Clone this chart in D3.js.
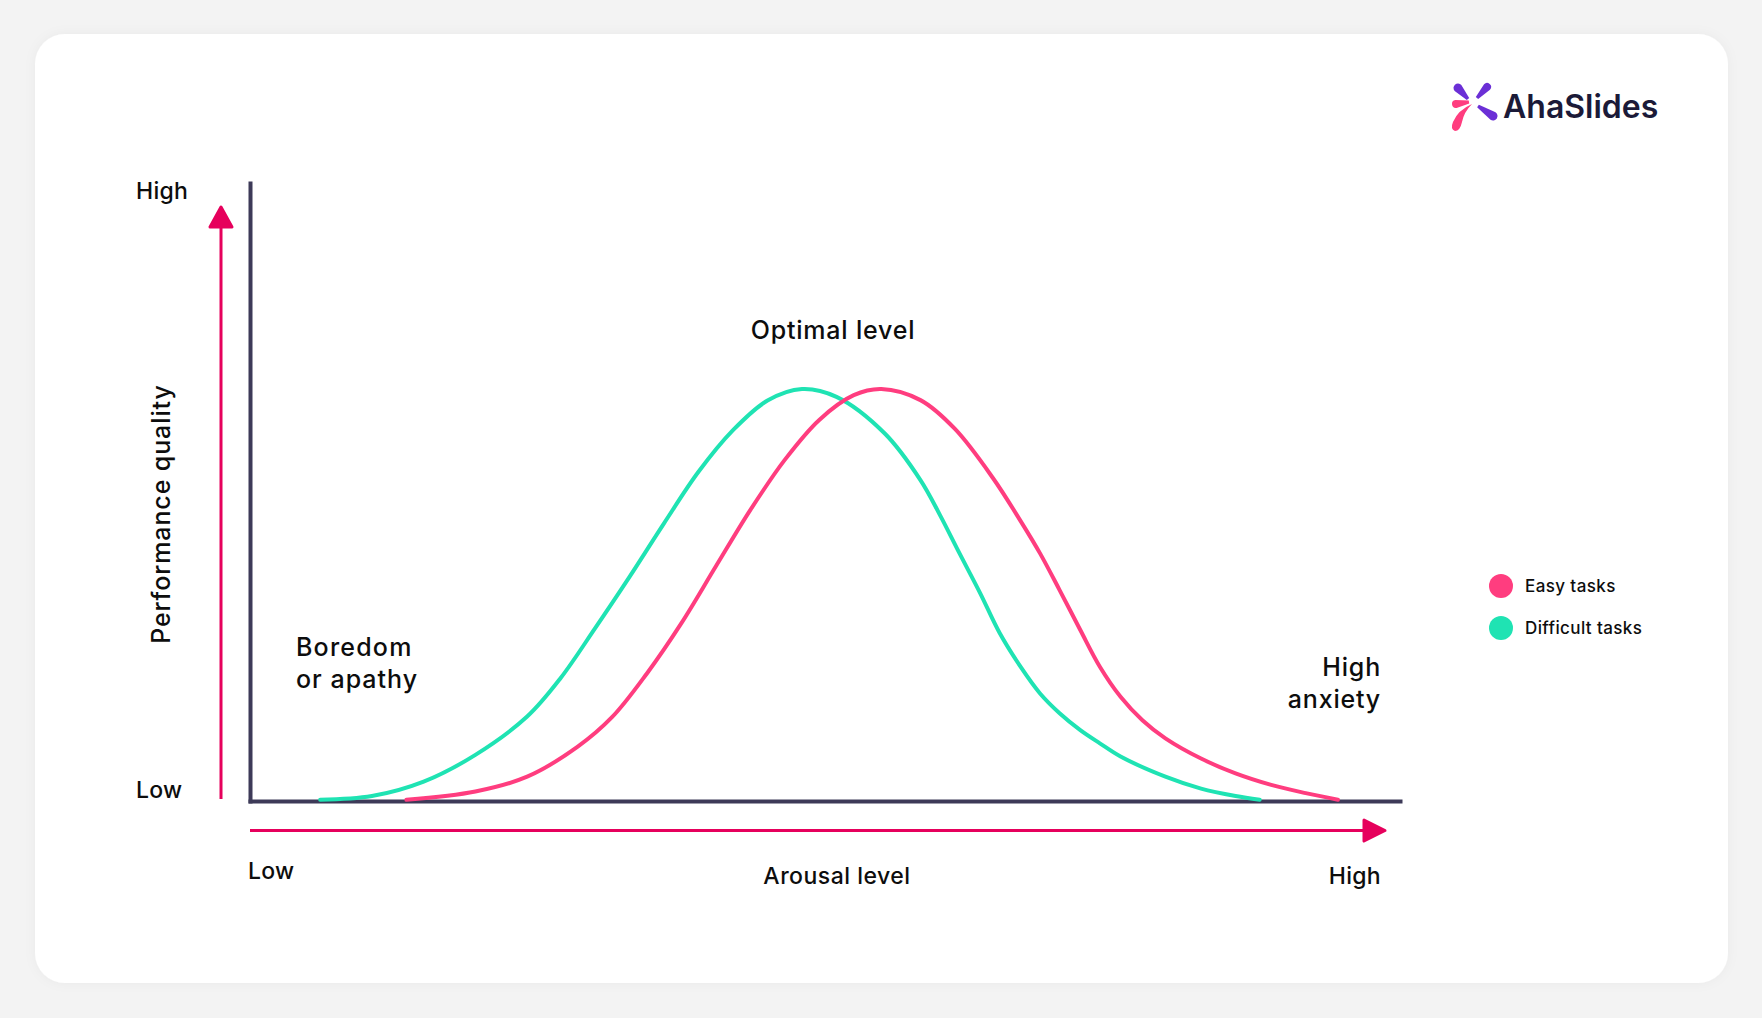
<!DOCTYPE html>
<html>
<head>
<meta charset="utf-8">
<script src="https://cdn.jsdelivr.net/npm/d3@7"></script>
<style>
  html, body { margin: 0; padding: 0; background: #f3f3f3; }
  svg { display: block; font-family: Inter, "Noto Sans", sans-serif; }
</style>
</head>
<body>
<svg id="chart" width="1762" height="1018"></svg>
<script>
// ---- Data (arousal level 0-100, performance quality 0-150 scale) ----
const seriesNames = ["Easy tasks", "Difficult tasks"];
const easyArousal = [13.6, 19.6, 24.1, 28.5, 31.5, 34.5, 37.5, 40.5, 43.5, 46.5, 49.5, 52.5, 54.9, 58.3, 61.3, 64.6, 67.0, 68.7, 70.4, 72.2, 73.9, 75.7, 77.6, 79.6, 82.7, 85.7, 88.8, 91.8, 94.6];
const easyPerformance = [0.3, 2.3, 5.9, 13.2, 20.4, 30.9, 43.1, 56.9, 70.6, 82.8, 92.5, 98.5, 100, 97.3, 90.3, 78.4, 68.0, 60.1, 51.2, 41.5, 32.6, 25.3, 19.6, 15.2, 10.3, 6.7, 3.9, 1.9, 0.3];
const difficultArousal = [6.1, 10.6, 15.1, 19.6, 24.1, 27.0, 30.0, 33.0, 36.0, 39.0, 42.0, 45.0, 48.0, 51.0, 55.2, 58.3, 60.0, 61.7, 63.5, 65.2, 67.0, 68.7, 70.4, 72.2, 73.9, 75.7, 79.6, 82.7, 85.7, 87.8];
const difficultPerformance = [0.3, 1.2, 4.7, 11.2, 20.5, 29.8, 41.9, 54.4, 67.4, 79.9, 90.0, 97.2, 100, 98.1, 89.2, 77.9, 69.4, 60.1, 50.4, 40.7, 32.6, 26.1, 21.3, 17.2, 14.0, 10.8, 5.9, 3.0, 1.2, 0.3];
const xTickLabels = ["Low", "High"];
const yTickLabels = ["Low", "High"];
const xAxisTitle = "Arousal level";
const yAxisTitle = "Performance quality";
const zoneLabels = [["Boredom", "or apathy"], ["Optimal level"], ["High", "anxiety"]];
const brandName = "AhaSlides";

// ---- Styles ----
const colEasy = "#ff3d7f";
const colDifficult = "#1fe3b3";
const colArrow = "#e6005c";
const colAxis = "#3d3a58";
const colText = "#0d0d0d";

const svg = d3.select("#chart");

// background card
const defs = svg.append("defs");
const f = defs.append("filter").attr("id", "shadow").attr("x", "-5%").attr("y", "-5%").attr("width", "110%").attr("height", "110%");
f.append("feDropShadow").attr("dx", 0).attr("dy", 0).attr("stdDeviation", 6).attr("flood-color", "#000").attr("flood-opacity", 0.04);
svg.append("rect").attr("x", 35).attr("y", 34).attr("width", 1693).attr("height", 949)
  .attr("rx", 30).attr("fill", "#ffffff").attr("filter", "url(#shadow)");

// scales
const x = d3.scaleLinear().domain([0, 100]).range([250, 1400]);
const y = d3.scaleLinear().domain([0, 150]).range([801, 183]);

// axes (domain lines only)
const gx = svg.append("g").attr("transform", `translate(0,${y(0)})`)
  .call(d3.axisBottom(x).tickValues([]).tickSizeOuter(0));
const gy = svg.append("g").attr("transform", `translate(${x(0)},0)`)
  .call(d3.axisLeft(y).tickValues([]).tickSizeOuter(0));
[gx, gy].forEach(g => g.select(".domain")
  .attr("stroke", colAxis).attr("stroke-width", 4).attr("stroke-linecap", "square"));

// curves
const line = d3.line().x(d => x(d[0])).y(d => y(d[1])).curve(d3.curveCatmullRom.alpha(0.5));
const difficultData = d3.zip(difficultArousal, difficultPerformance);
const easyData = d3.zip(easyArousal, easyPerformance);
svg.append("path").datum(difficultData).attr("d", line)
  .attr("fill", "none").attr("stroke", colDifficult).attr("stroke-width", 4).attr("stroke-linecap", "round");
svg.append("path").datum(easyData).attr("d", line)
  .attr("fill", "none").attr("stroke", colEasy).attr("stroke-width", 4).attr("stroke-linecap", "round");

// pink arrows
svg.append("line").attr("x1", 221).attr("y1", 799).attr("x2", 221).attr("y2", 226)
  .attr("stroke", colArrow).attr("stroke-width", 3);
svg.append("path").attr("d", "M221,207 L232,227 L210,227 Z")
  .attr("fill", colArrow).attr("stroke", colArrow).attr("stroke-width", 3).attr("stroke-linejoin", "round");
svg.append("line").attr("x1", 250).attr("y1", 830.5).attr("x2", 1366).attr("y2", 830.5)
  .attr("stroke", colArrow).attr("stroke-width", 3);
svg.append("path").attr("d", "M1385,830.5 L1364,841 L1364,820 Z")
  .attr("fill", colArrow).attr("stroke", colArrow).attr("stroke-width", 3).attr("stroke-linejoin", "round");

// text helper
function txt(s, xx, yy, size, anchor, ls) {
  return svg.append("text").attr("x", xx).attr("y", yy).attr("font-size", size)
    .attr("text-anchor", anchor || "start").attr("font-weight", 500)
    .attr("letter-spacing", ls || 0)
    .attr("fill", colText).text(s);
}

// y tick labels
txt(yTickLabels[1], 136, 199, 23, "start", 0.3);
txt(yTickLabels[0], 136, 798, 23, "start", 0.3);
// x tick labels
txt(xTickLabels[0], 248, 879, 23, "start", 0.3);
txt(xTickLabels[1], 1381, 884, 23, "end", 0.3);
// axis titles
txt(xAxisTitle, 837, 884, 23, "middle", 0.5);
svg.append("text").attr("transform", "translate(170,514) rotate(-90)")
  .attr("font-size", 25).attr("font-weight", 500).attr("text-anchor", "middle")
  .attr("letter-spacing", 0.9)
  .attr("fill", colText).text(yAxisTitle);

// zone labels
txt(zoneLabels[0][0], 296, 656, 25, "start", 1.2);
txt(zoneLabels[0][1], 296, 688, 25, "start", 1.0);
txt(zoneLabels[1][0], 833, 339, 25, "middle", 0.8);
txt(zoneLabels[2][0], 1381, 676, 25, "end", 0.8);
txt(zoneLabels[2][1], 1381, 708, 25, "end", 0.8);

// legend
const legend = svg.append("g");
[colEasy, colDifficult].forEach((c, i) => {
  legend.append("circle").attr("cx", 1501).attr("cy", 586 + i * 42).attr("r", 12).attr("fill", c);
  legend.append("text").attr("x", 1525).attr("y", 592 + i * 42).attr("font-size", 17)
    .attr("font-weight", 500).attr("letter-spacing", 0.4).attr("fill", colText).text(seriesNames[i]);
});

// logo
function drop(x1, y1, x2, y2, r, color) {
  const dx = x2 - x1, dy = y2 - y1, L = Math.hypot(dx, dy);
  const ux = dx / L, uy = dy / L, nx = -uy, ny = ux;
  const t = 1.6;
  const d = `M${x1 + nx * t},${y1 + ny * t} L${x2 + nx * r},${y2 + ny * r} ` +
    `A${r},${r} 0 0 0 ${x2 + ux * r},${y2 + uy * r} ` +
    `A${r},${r} 0 0 0 ${x2 - nx * r},${y2 - ny * r} ` +
    `L${x1 - nx * t},${y1 - ny * t} Z`;
  svg.append("path").attr("d", d).attr("fill", color);
}
const purple = "#6b2fd6", pinkLogo = "#ff3d7f";
drop(1468, 99, 1458, 88, 4.5, purple);
drop(1477, 98, 1487, 87, 4, purple);
drop(1478, 106, 1493, 116, 4.5, purple);
drop(1469, 102, 1456, 104, 4, pinkLogo);
svg.append("path").attr("d", "M1472,104 Q1464,112 1462,122 Q1460,131 1455,131 Q1450,129 1453,122 Q1458,110 1472,104 Z").attr("fill", pinkLogo);
svg.append("text").attr("x", 1503).attr("y", 118).attr("font-size", 32).attr("font-weight", 600)
  .attr("fill", "#1b1a38").attr("letter-spacing", 0).text(brandName);
</script>
</body>
</html>
